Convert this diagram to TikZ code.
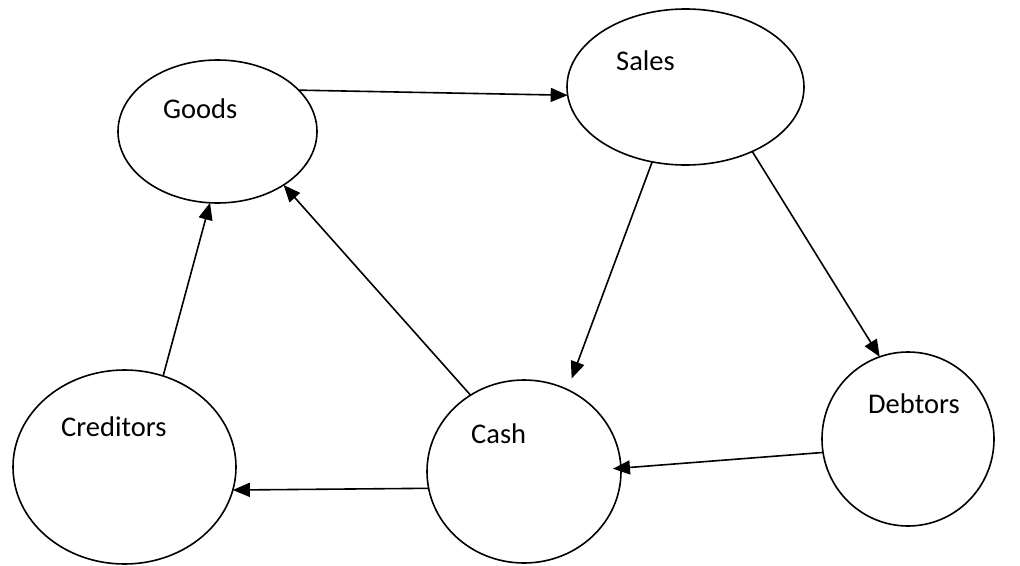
\documentclass[tikz,border=0pt]{standalone}
\usepackage{fontspec}
\setmainfont{Carlito}
\usetikzlibrary{shapes.geometric,arrows.meta}
\begin{document}
\begin{tikzpicture}[x=1pt,y=-1pt,
  bubble/.style={draw, ellipse, line width=1.6pt, inner sep=0pt, outer sep=0pt},
  lbl/.style={anchor=base west, inner sep=0pt, font=\fontsize{28.5}{34}\selectfont},
  flow/.style={line width=1.6pt, -{Triangle[length=17pt,width=14pt]}}]
\useasboundingbox (0,0) rectangle (1020,565);
\node[bubble, minimum width=199pt, minimum height=143pt] (goods) at (217.5,131.5) {};
\node[bubble, minimum width=237pt, minimum height=156pt] (sales) at (685.5,87) {};
\node[bubble, minimum width=223pt, minimum height=194pt] (creditors) at (124.5,467) {};
\node[bubble, minimum width=194pt, minimum height=183pt] (cash) at (524,471.5) {};
\node[bubble, minimum width=172pt, minimum height=174pt] (debtors) at (908,439) {};
\node[lbl] (goodsT) at (163,118.3) {Goods};
\node[lbl] (salesT) at (616,70) {Sales};
\node[lbl] (creditorsT) at (61,436.7) {Creditors};
\node[lbl] (cashT) at (471,443.3) {Cash};
\node[lbl] (debtorsT) at (868,413.3) {Debtors};
\draw[flow] (goods.27) -- (sales.184);
\draw[flow, shorten >=12pt] (sales.-114.7) -- (cash.62.7);
\draw[flow] (sales.-44.8) -- (debtors.109.3);
\draw[flow] (cash.125.2) -- (goods.-39.8);
\draw[flow] (creditors.67.8) -- (goods.-96);
\draw[flow] (cash.190.2) -- (creditors.-12.1);
\draw[flow, shorten >=-8pt] (debtors.189.2) -- (cash.2.9);
\end{tikzpicture}
\end{document}
